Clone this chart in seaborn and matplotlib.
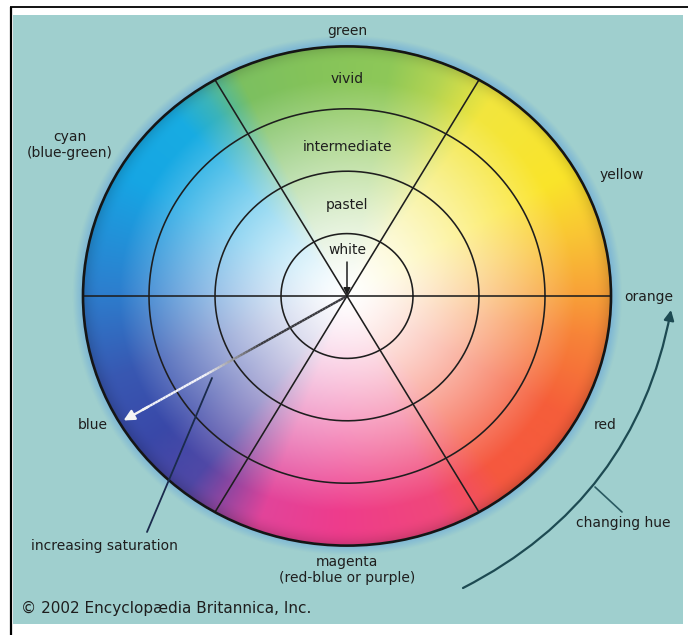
import numpy as np
import pandas as pd
import matplotlib
matplotlib.use("Agg")
import matplotlib.pyplot as plt
import seaborn as sns
from matplotlib.patches import Ellipse, Rectangle, FancyArrowPatch
from matplotlib.collections import LineCollection
from matplotlib.colors import to_rgb

# ---------------- data ----------------
HUE_LABELS = ["orange", "yellow", "green", "cyan\n(blue-green)", "blue",
              "magenta\n(red-blue or purple)", "red"]
SAT_LEVELS = ["white", "pastel", "intermediate", "vivid"]
RING_RADII = [1, 2, 3, 4]
SPOKE_ANGLES = [0, 60, 120]
HUE_STOP_DEG = [0, 15, 30, 55, 68, 80, 100, 115, 124, 132, 150, 178, 200,
                218, 232, 250, 268, 292, 308, 330, 350, 360]
HUE_STOP_COLORS = ["#f8a038", "#f9c434", "#fae42a", "#f2e63e", "#b4d452",
                   "#8ec858", "#84c35a", "#7cc060", "#3cb4b8", "#18ace2",
                   "#16a6e4", "#2c80cf", "#3858b2", "#3a48a8", "#5048a6",
                   "#e2449a", "#ee3c8c", "#f0487a", "#f5583f", "#f55e3a",
                   "#f78438", "#f8a038"]
CREDIT = "\u00a9 2002 Encyclop\u00e6dia Britannica, Inc."

# ---------------- layout ----------------
W, H = 688, 635
CX, CY = 347.0, 296.0
SX, SY = 66.0, 62.4
BG = "#9fcfce"
INK = "#1e1e1e"

sns.set_theme(style="white")
plt.rcParams["font.family"] = ["DejaVu Sans"]

fig = plt.figure(figsize=(W / 100, H / 100), dpi=100)
fig.patch.set_facecolor("white")
ax = fig.add_axes([0, 0, 1, 1])
ax.set_axis_off()

# background panel and frame
ax.add_patch(Rectangle((13, 15), 670, 609, facecolor=BG, edgecolor="none", zorder=0))
ax.plot([10, W], [7, 7], color="black", lw=1.3, zorder=1, solid_capstyle="butt")
ax.plot([11, 11], [7, H], color="black", lw=1.6, zorder=1, solid_capstyle="butt")

# colour wheel image
R_OUT = RING_RADII[-1]
ext = R_OUT + 0.2
x0, x1 = CX - ext * SX, CX + ext * SX
y0, y1 = CY - ext * SY, CY + ext * SY
res = 0.5
xs = np.arange(x0, x1, res) + res / 2
ys = np.arange(y0, y1, res) + res / 2
X, Y = np.meshgrid(xs, ys)
U = (X - CX) / SX
V = -(Y - CY) / SY
R = np.hypot(U, V)
A = np.degrees(np.arctan2(V, U)) % 360
stops = np.array([to_rgb(c) for c in HUE_STOP_COLORS])
vivid = np.stack([np.interp(A, HUE_STOP_DEG, stops[:, k]) for k in range(3)], axis=-1)
t = np.clip(R / 3.45, 0, 1) ** 1.35
rgb = 1 - t[..., None] * (1 - vivid)
edge = np.clip((R - 3.72) / 0.28, 0, 1)
rgb = rgb * (1 - 0.16 * edge ** 2)[..., None]
alpha = np.where(R <= R_OUT, 1.0, 0.0)
halo = (R > R_OUT) & (R < R_OUT + 0.16)
halo_rgb = np.array(to_rgb("#5c9fdc"))
rgb[halo] = halo_rgb
alpha = np.where(halo, 0.55 * (1 - (R - R_OUT) / 0.16), alpha)
img = np.dstack([np.clip(rgb, 0, 1), alpha])
ax.imshow(img, extent=(x0, x1, y1, y0), origin="upper", interpolation="bilinear",
          aspect="auto", zorder=2)

# rings (seaborn line plot)
theta = np.linspace(0, 2 * np.pi, 400)
rows = []
for r in RING_RADII[:-1]:
    rows.append(pd.DataFrame({"x": CX + r * SX * np.cos(theta),
                              "y": CY - r * SY * np.sin(theta), "ring": r}))
ring_df = pd.concat(rows, ignore_index=True)
sns.lineplot(data=ring_df, x="x", y="y", units="ring", estimator=None, sort=False,
             color=INK, lw=1.15, ax=ax, zorder=3, legend=False)
ax.add_patch(Ellipse((CX, CY), 2 * R_OUT * SX, 2 * R_OUT * SY, fill=False,
                     edgecolor="#151515", lw=1.9, zorder=4))

# spokes
for a in SPOKE_ANGLES:
    rad = np.radians(a)
    ax.plot([CX + R_OUT * SX * np.cos(rad), CX - R_OUT * SX * np.cos(rad)],
            [CY - R_OUT * SY * np.sin(rad), CY + R_OUT * SY * np.sin(rad)],
            color=INK, lw=1.15, zorder=3)

# saturation arrow (dark to white)
sat_ang = np.radians(210.5)
rr = np.linspace(0.02, 3.6, 80)
px = CX + rr * SX * np.cos(sat_ang)
py = CY - rr * SY * np.sin(sat_ang)
segs = np.stack([np.column_stack([px[:-1], py[:-1]]), np.column_stack([px[1:], py[1:]])], axis=1)
mid = (rr[:-1] + rr[1:]) / 2
g = np.clip((mid - 1.5) / 1.0, 0, 1)
cols = np.column_stack([0.22 + 0.74 * g, 0.22 + 0.74 * g, 0.24 + 0.74 * g])
ax.add_collection(LineCollection(segs, colors=cols, linewidths=1.7, zorder=5))
tip_r = 3.93
ax.annotate("", xy=(CX + tip_r * SX * np.cos(sat_ang), CY - tip_r * SY * np.sin(sat_ang)),
            xytext=(CX + 3.5 * SX * np.cos(sat_ang), CY - 3.5 * SY * np.sin(sat_ang)),
            arrowprops=dict(arrowstyle="-|>", color="#f4f4f4", lw=1.7, mutation_scale=16,
                            shrinkA=0, shrinkB=0), zorder=6)

# "white" pointer
ax.annotate("", xy=(CX, CY - 1), xytext=(CX, CY - 34),
            arrowprops=dict(arrowstyle="-|>", color=INK, lw=1.1, mutation_scale=10,
                            shrinkA=0, shrinkB=0), zorder=6)

# saturation level labels
fs = 10
sat_pos = {"vivid": 79, "intermediate": 147, "pastel": 205, "white": 250}
for name in SAT_LEVELS:
    ax.text(CX, sat_pos[name], name, ha="center", va="center", fontsize=fs,
            color=INK, zorder=7)

# hue labels
hue_pos = {"orange": (649, 297), "yellow": (622, 175), "green": (347, 31),
           "cyan\n(blue-green)": (70, 145), "blue": (93, 425),
           "magenta\n(red-blue or purple)": (347, 570), "red": (605, 425)}
for name in HUE_LABELS:
    x, y = hue_pos[name]
    ax.text(x, y, name, ha="center", va="center", fontsize=fs, color=INK,
            linespacing=1.15, zorder=7)

# increasing saturation
ax.plot([147, 212], [532, 378], color="#1b2b4c", lw=1.3, zorder=6)
ax.text(104, 546, "increasing saturation", ha="center", va="center", fontsize=fs,
        color=INK, zorder=7)

# changing hue arc
arc = FancyArrowPatch((463, 588), (671, 310), connectionstyle="arc3,rad=0.245",
                      arrowstyle="-|>", mutation_scale=15, color="#1d4a52", lw=1.6,
                      shrinkA=0, shrinkB=0, zorder=6)
ax.add_patch(arc)
ax.plot([622, 595], [512, 487], color="#2a5a62", lw=1.2, zorder=6)
ax.text(623, 523, "changing hue", ha="center", va="center", fontsize=fs,
        color=INK, zorder=7)

# credit
ax.text(21, 608, CREDIT, ha="left", va="center", fontsize=11, color=INK, zorder=7)

ax.set_xlim(0, W)
ax.set_ylim(H, 0)
fig.savefig("out.png", dpi=100, facecolor="white")
